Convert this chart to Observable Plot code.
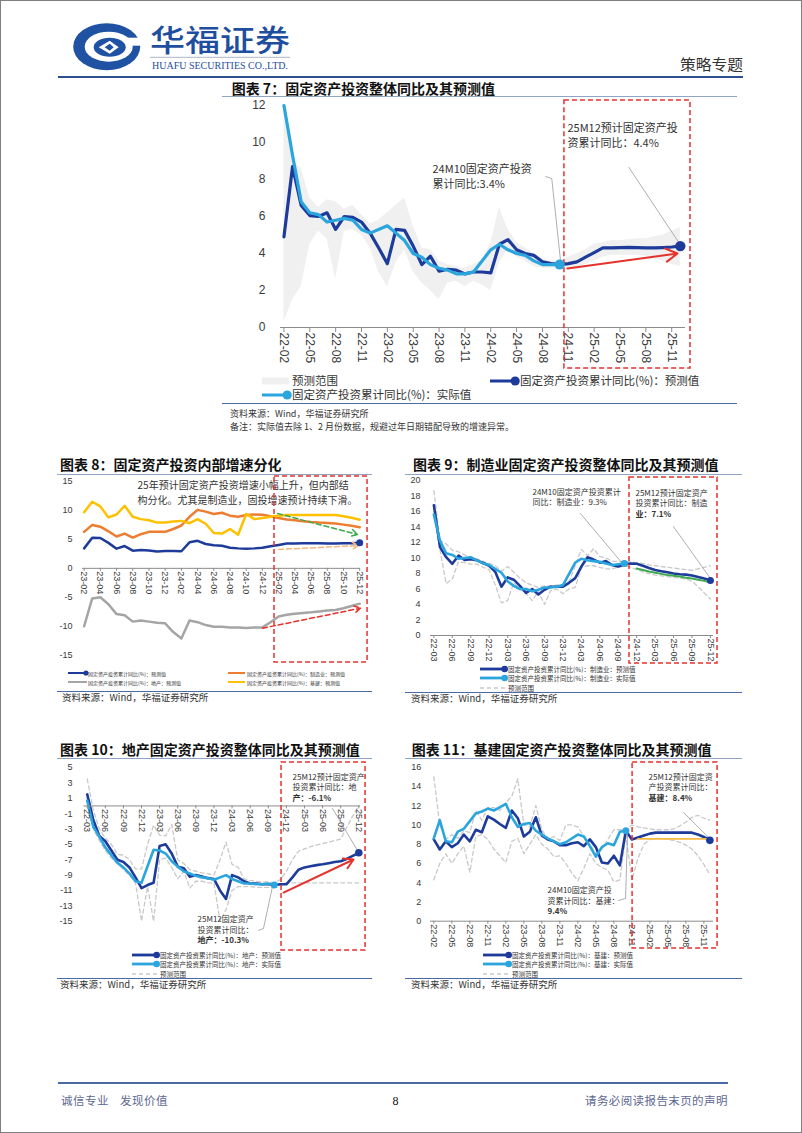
<!DOCTYPE html>
<html><head><meta charset="utf-8">
<script src="https://cdn.jsdelivr.net/npm/d3@7"></script>
<script src="https://cdn.jsdelivr.net/npm/@observablehq/plot@0.6"></script>
<style>
html,body{margin:0;padding:0;background:#fff;}
#page{position:relative;width:802px;height:1133px;overflow:hidden;background:#fff;font-family:'Noto Sans CJK SC','Noto Sans',sans-serif;color:#333;}
#page .t{position:absolute;white-space:pre;line-height:1;transform:translateY(-50%);}
#page .chart{position:absolute;}
#page .chart svg{max-width:none !important;display:block;overflow:visible;}
</style></head><body><div id="page"></div>
<script>
// ---------- categories ----------
const months = ["22-02","22-03","22-04","22-05","22-06","22-07","22-08","22-09","22-10","22-11","22-12",
"23-01","23-02","23-03","23-04","23-05","23-06","23-07","23-08","23-09","23-10","23-11","23-12",
"24-01","24-02","24-03","24-04","24-05","24-06","24-07","24-08","24-09","24-10","24-11","24-12",
"25-01","25-02","25-03","25-04","25-05","25-06","25-07","25-08","25-09","25-10","25-11","25-12"];
const ticksQ = ["22-02","22-05","22-08","22-11","23-02","23-05","23-08","23-11","24-02","24-05","24-08","24-11","25-02","25-05","25-08","25-11"];
const ticksB = ["23-02","23-04","23-06","23-08","23-10","23-12","24-02","24-04","24-06","24-08","24-10","24-12","25-02","25-04","25-06","25-08","25-10","25-12"];
const ticksM = ["22-03","22-06","22-09","22-12","23-03","23-06","23-09","23-12","24-03","24-06","24-09","24-12","25-03","25-06","25-09","25-12"];
const y7 = [0,2,4,6,8,10,12];
const y8 = [-15,-10,-5,0,5,10,15];
const y9 = [0,2,4,6,8,10,12,14,16,18,20];
const y10 = [5,3,1,-1,-3,-5,-7,-9,-11,-13,-15];
const y11 = [0,2,4,6,8,10,12,14,16];

// ---------- series ----------
// total FAI, from 22-02
const faiPred = [4.9,8.7,6.6,6.05,6.0,6.2,5.3,6.0,5.95,5.7,5.1,4.3,3.45,5.3,5.25,4.4,3.4,3.85,3.05,3.15,3.1,2.9,3.0,3.0,2.95,4.5,4.75,4.2,4.0,3.9,3.55,3.45,3.4,3.45,3.55,3.8,4.05,4.3,4.3,4.32,4.33,4.32,4.3,4.3,4.32,4.35,4.4];
const faiActual = [12.0,9.3,6.8,6.2,6.1,5.7,5.8,5.9,5.8,5.3,5.1,null,5.5,5.1,4.7,4.0,3.8,3.4,3.2,3.1,2.9,2.9,3.0,null,4.2,4.5,4.2,4.0,3.9,3.6,3.4,3.4,3.4];
const faiLow = [0.3,1.5,2.2,4.5,5.2,4.8,2.6,5.2,5.3,5.0,4.3,3.0,2.2,3.5,4.2,3.0,2.4,2.0,1.5,2.4,2.5,2.2,2.5,2.3,2.0,3.5,4.2,3.8,3.6,3.3,3.2,3.2,3.2,3.2,3.2,3.4,3.6,3.8,3.9,3.9,3.9,3.9,3.85,3.7,3.6,3.4,3.3];
const faiHigh = [12.0,9.0,8.6,7.0,6.5,6.9,6.8,6.4,6.6,6.1,5.6,5.8,6.2,6.6,7.0,5.5,4.3,4.2,3.6,3.4,3.3,3.2,3.4,3.6,4.6,6.5,5.3,4.6,4.3,4.0,3.7,3.6,3.6,3.8,4.0,4.2,4.5,4.6,4.7,4.7,4.75,4.8,4.8,4.9,5.0,5.2,5.4];
// manufacturing, from 22-03
const mfgPred = [16.8,11.4,10.1,9.25,10.3,9.75,9.85,9.7,9.35,9.0,8.2,6.3,7.5,7.2,6.4,5.5,6.0,5.3,5.9,6.3,6.3,6.3,6.8,7.4,8.9,10.1,9.8,9.4,9.6,9.1,8.9,9.2,9.3,9.25,9.0,8.7,8.45,8.3,8.15,8.0,7.9,7.85,7.75,7.55,7.35,7.1];
const mfgActual = [15.6,12.2,10.6,10.4,9.9,10.0,10.1,9.7,9.3,9.1,null,8.1,7.0,6.4,6.0,6.0,5.7,5.9,6.2,6.2,6.3,6.5,null,9.4,9.9,9.7,9.6,9.5,9.3,9.1,9.2,9.3];
const mfgHigh = [18.7,12.3,11.8,11.0,10.8,10.4,10.1,9.9,9.6,9.3,9.0,8.3,8.9,8.2,7.4,6.8,6.5,6.2,6.4,6.4,6.5,6.6,7.0,9.0,11.1,10.3,11.2,10.2,10.0,9.6,9.5,9.6,9.5,9.4,9.3,9.1,9.0,8.9,8.8,8.7,8.6,8.5,8.4,8.6,8.8,9.0];
const mfgLow = [15.5,11.0,6.7,7.3,9.5,9.4,9.2,9.2,8.8,8.5,6.5,4.2,4.5,6.8,6.0,5.4,4.5,5.7,4.0,5.8,6.0,5.4,6.0,6.2,8.8,9.0,9.0,8.8,8.6,8.6,8.8,9.0,8.8,8.5,8.2,8.0,7.8,7.7,7.6,7.5,7.4,7.3,7.0,6.3,5.5,4.7];
// manufacturing trend (green), from 24-12
const mfgTrend = [8.65,8.45,8.25,8.1,7.95,7.8,7.7,7.6,7.45,7.35,7.2,7.05,6.85];
// real estate, from 22-03
const rePred = [1.5,-1.8,-3.9,-4.6,-5.8,-7.0,-7.3,-8.0,-9.3,-10.7,-10.3,-10.0,-5.2,-5.0,-6.2,-7.9,-8.1,-9.2,-9.0,-9.2,-9.4,-9.5,-11.0,-12.1,-9.0,-9.3,-9.8,-10.1,-10.1,-10.2,-10.2,-10.3,-10.2,-10.2,-9.3,-8.3,-8.0,-7.85,-7.7,-7.6,-7.45,-7.3,-7.2,-6.9,-6.5,-6.1];
const reActual = [0.7,-2.7,-4.0,-5.4,-6.4,-7.4,-8.0,-8.8,-9.8,-10.0,null,-5.7,-5.8,-6.2,-7.2,-7.9,-8.5,-8.8,-9.1,-9.3,-9.4,-9.6,null,-9.0,-9.5,-9.8,-10.1,-10.1,-10.2,-10.2,-10.1,-10.3];
const reHigh = [3.5,-0.5,-3.0,-4.2,-5.0,-6.3,-6.4,-7.0,-8.2,-8.2,-5.0,-2.5,-3.8,-3.9,-2.4,-7.0,-7.5,-8.3,-8.5,-8.7,-8.8,-9.0,-7.0,-4.7,-7.6,-8.0,-9.5,-9.7,-9.8,-9.9,-9.9,-10.0,-9.6,-8.5,-7.0,-5.9,-5.6,-5.3,-5.1,-4.9,-4.7,-4.5,-4.3,-2.8,-1.3,0.0];
const reLow = [0.0,-3.0,-4.5,-5.8,-6.8,-7.5,-8.3,-9.0,-10.0,-15.0,-10.5,-15.0,-7.0,-6.8,-8.0,-9.5,-8.5,-10.7,-9.8,-9.8,-10.0,-10.0,-15.0,-13.5,-11.0,-10.5,-10.5,-10.5,-10.6,-10.6,-10.6,-10.6,-10.2,-10.0,-10.0,-10.0,-10.0,-10.0,-10.0,-10.0,-10.0,-10.0,-10.0,-10.0,-10.0,-10.0];
// infrastructure, from 22-02
const infraPred = [8.5,7.45,8.3,7.7,8.1,9.0,8.3,9.5,9.25,10.9,10.55,10.1,9.7,11.5,10.7,8.8,9.3,10.8,8.9,8.5,8.3,7.9,7.9,8.1,8.2,7.8,8.5,7.7,6.1,6.0,6.8,5.8,9.4,8.5,8.7,8.9,9.1,9.2,9.2,9.2,9.2,9.2,9.2,9.2,9.0,8.75,8.4];
const infraActual = [8.6,10.5,8.3,8.2,9.3,9.6,10.4,11.2,11.4,11.7,11.5,null,12.2,10.8,9.8,10.1,10.2,9.4,9.0,8.6,8.3,8.0,8.2,null,9.0,8.8,7.8,6.7,7.7,8.1,7.9,9.3,9.4];
const infraHigh = [15.0,10.0,8.5,9.0,8.6,9.4,9.2,11.5,10.5,11.8,11.8,11.5,12.3,13.0,14.8,10.0,9.8,12.0,9.5,8.5,8.8,8.4,10.0,10.0,9.8,8.8,8.0,7.0,7.5,8.5,9.5,9.5,9.5,10.0,9.8,9.7,9.6,9.5,9.5,9.5,9.6,9.9,10.3,10.8,11.0,10.7,10.5];
const infraLow = [4.3,6.0,7.0,6.0,7.0,7.8,5.1,8.8,9.0,8.5,7.5,6.8,6.1,8.3,8.6,7.0,8.0,9.0,8.0,7.5,6.7,6.8,6.0,5.0,4.2,5.5,7.0,6.0,5.6,5.3,4.1,4.3,9.0,4.3,6.5,8.0,8.5,8.6,8.6,8.5,8.4,8.2,7.9,7.5,6.8,5.9,4.8];
// infrastructure flat reference (orange), 24-12 .. 25-12
const infraFlat = [8.55,8.55];
const infraFlatMonths = ["24-12","25-12"];

// ---------- annotations (data coordinates: month index, value) ----------
const note7 = [
  {x:17.24,y:8.54,lines:[["24M10固定资产投资",0],["累计同比:3.4%",0]]},
  {x:32.9,y:10.74,lines:[["25M12预计固定资产投",0],["资累计同比：4.4%",0]]}];
const lead7 = [[{x:30.38,y:8.16},{x:31.08,y:8.05},{x:32.12,y:3.51}],[{x:40.02,y:8.66},{x:46.0,y:4.47}]];
const box7 = {x1:32.55,x2:47.18,y1:12.27,y2:-2.22};
const arrow7 = {x1:32.9,y1:3.19,x2:45.67,y2:4.0};

const note8 = [{x:18.59,y:14.31,lines:[["25年预计固定资产投资增速小幅上升，但内部结",0],["构分化。尤其是制造业，固投增速预计持续下滑。",0]]}];
const box8 = {x1:35.49,x2:46.97,y1:15.87,y2:-16.25};
const arrow8g = {x1:35.86,y1:9.47,x2:45.73,y2:5.85};
const arrow8o = {x1:35.98,y1:3.26,x2:45.86,y2:3.95};
const arrow8r = {x1:34.01,y1:-10.34,x2:46.1,y2:-6.88};

const note9 = [
  {x:17.04,y:18.49,lines:[["24M10固定资产投资累计",0],["同比：制造业：9.3%",0]]},
  {x:33.8,y:18.36,lines:[["25M12预计固定资产",0],["投资累计同比：制造",0],["业：7.1%",1]]}];
const lead9 = [[{x:24.85,y:15.74},{x:31.69,y:9.29}],[{x:39.98,y:14.06},{x:46.0,y:7.35}]];
const box9 = {x1:32.83,x2:47.15,y1:20.39,y2:-3.61};

const note10 = [
  {x:35.02,y:3.73,lines:[["25M12预计固定资产",0],["投资累计同比：地",0],["产：-6.1%",1]]},
  {x:19.28,y:-14.78,lines:[["25M12固定资产",0],["投资累计同比：",0],["地产：-10.3%",1]]}];
const lead10 = [[{x:41.65,y:-0.34},{x:45.79,y:-5.8}],[{x:29.38,y:-16.2},{x:30.21,y:-15.94},{x:31.7,y:-10.49}]];
const box10 = {x1:33.2,x2:47.12,y1:5.65,y2:-18.82};
const arrow10 = {x1:33.53,y1:-11.27,x2:45.13,y2:-6.97};

const note11 = [
  {x:35.78,y:14.96,lines:[["25M12预计固定资",0],["产投资累计同比：",0],["基建：8.4%",1]]},
  {x:18.95,y:3.19,lines:[["24M10固定资产投",0],["资累计同比：基建：",0],["9.4%",1]]}];
const lead11 = [[{x:41.62,y:11.29},{x:45.78,y:8.7}],[{x:30.78,y:2.15},{x:31.95,y:2.36},{x:32.28,y:9.22}]];
const box11 = {x1:33.12,x2:47.28,y1:16.49,y2:-2.84};

// ---------- styles ----------
const CJK = "'Noto Sans CJK SC','Noto Sans',sans-serif";
const DARK="#1d3b9a", LIGHT="#2aa5de", RED="#e5322d", BAND="#f0f0f0", RANGE="#c9c9c9",
      ORANGE="#ed7d31", YELLOW="#ffc000", GRAY="#a5a5a5", GREEN="#3daa4f", LORANGE="#f5b67a", FLAT="#f4b942";

const idx = m => months.indexOf(m);
function ser(arr, start){ const s = idx(start); return arr.map((v,k)=>({i:s+k, v})).filter(d=>d.v!=null); }
function lastOf(arr, start){ const s = ser(arr,start); return s[s.length-1]; }
function rangeLines(hi, lo, start){
  return [Plot.line(ser(hi,start),{x:"i",y:"v",stroke:RANGE,strokeWidth:1.3,strokeDasharray:"4,3"}),
          Plot.line(ser(lo,start),{x:"i",y:"v",stroke:RANGE,strokeWidth:1.3,strokeDasharray:"4,3"})];
}
function line(arr,start,color,w){ return Plot.line(ser(arr,start),{x:"i",y:"v",stroke:color,strokeWidth:w,strokeLinejoin:"round"}); }
function dot(p,color,r){ return Plot.dot([p],{x:"i",y:"v",r,fill:color,stroke:"none"}); }
function note(a,size,lh){
  return a.lines.map((ln,k)=>Plot.text([a],{x:"x",y:"y",text:()=>ln[0],dy:k*lh,textAnchor:"start",fontSize:size,
    fontWeight:ln[1]?"bold":"normal",fill:"#333",fontFamily:CJK}));
}
function leader(p){ return Plot.line(p,{x:"x",y:"y",stroke:"#9b9b9b",strokeWidth:0.8}); }
function redBox(b){ return Plot.rect([b],{x1:"x1",x2:"x2",y1:"y1",y2:"y2",fill:"none",stroke:RED,strokeWidth:1.5,strokeDasharray:"5,3"}); }
function arrow(a,color,w,head,dash){ const o={x1:"x1",y1:"y1",x2:"x2",y2:"y2",stroke:color,strokeWidth:w,headLength:head}; if(dash) o.strokeDasharray=dash; return Plot.arrow([a],o); }

function buildChart(c){
  const pxPerY = (c.H - c.mt - c.mb)/(c.yd[1]-c.yd[0]);
  const tl = c.tickLen/pxPerY;
  const xt = c.xTicks.map(idx);
  return Plot.plot({
    width:c.W, height:c.H, marginTop:c.mt, marginBottom:c.mb, marginLeft:c.ml, marginRight:c.mr,
    x:{type:"linear",domain:c.xd,axis:null},
    y:{type:"linear",domain:c.yd,axis:null},
    style:{fontFamily:"'Liberation Sans',Arial,sans-serif",background:"transparent",overflow:"visible"},
    marks:[
      ...c.under,
      Plot.ruleY([0],{stroke:"#8c8c8c",strokeWidth:1}),
      Plot.ruleX(xt,{x:d=>d,y1:0,y2:-tl,stroke:"#8c8c8c",strokeWidth:1}),
      Plot.text(xt,{x:d=>d,y:0,text:d=>months[d],rotate:90,textAnchor:"start",dy:c.gap,fontSize:c.font,fill:"#3a3a3a"}),
      Plot.text(c.yTicks,{y:d=>d,text:d=>String(d),frameAnchor:"left",textAnchor:"end",dx:c.ydx,fontSize:c.font,fill:"#3a3a3a"}),
      ...c.over
    ]
  });
}

const page = document.getElementById("page");
function place(svg,left,top,w){ const d=document.createElement("div"); d.className="chart"; d.style.left=left+"px"; d.style.top=top+"px"; d.style.width=w+"px"; d.appendChild(svg); page.appendChild(d); }
function txt(x,y,s,size,extra){ const d=document.createElement("div"); d.className="t"; d.style.left=x+"px"; d.style.top=y+"px"; d.style.fontSize=size+"px"; if(extra) Object.assign(d.style,extra); d.textContent=s; page.appendChild(d); return d; }
function hline(x1,x2,y,color,w){ const d=document.createElement("div"); d.style.cssText=`position:absolute;left:${x1}px;top:${y-w/2}px;width:${x2-x1}px;height:${w}px;background:${color};`; page.appendChild(d); }
function legend(x,y,w,kind,color,sw,r,label,size,tx){
  const d=document.createElement("div");
  d.style.cssText=`position:absolute;left:${x}px;top:${y-8}px;width:${w+12}px;height:16px;`;
  let inner = `<line x1="0" x2="${w}" y1="8" y2="8" stroke="${color}" stroke-width="${sw}"${kind==="dash"?' stroke-dasharray="4,3"':''}/>`;
  if(r) inner += `<circle cx="${w-r*0.4}" cy="8" r="${r}" fill="${color}"/>`;
  d.innerHTML = `<svg width="${w+12}" height="16" style="overflow:visible;display:block">${inner}</svg>`;
  page.appendChild(d);
  txt(tx,y,label,size);
}
const title = (x,y,s)=>txt(x,y,s,14,{fontWeight:"700",color:"#111"});
const SRC = "资料来源：Wind，华福证券研究所";

// ---------- header ----------
(function(){
  const d=document.createElement("div");
  d.style.cssText="position:absolute;left:0;top:0;width:802px;height:80px;";
  d.innerHTML = `<svg width="802" height="80">
    <g transform="translate(106.7,46.7)">
      <ellipse rx="33.5" ry="23.5" fill="#1f52a3"/>
      <ellipse cx="2" rx="24" ry="15" fill="#fff"/>
      <rect x="20" y="-9" width="16" height="8" fill="#fff"/>
      <ellipse cx="3" cy="0.5" rx="16" ry="9.5" fill="#1f52a3"/>
      <path d="M-8 0.5 L3 -6 L12 0.5 L3 7 Z" fill="#fff"/>
      <path d="M-2 0.5 L3 -3 L7 0.5 L3 4 Z" fill="#1f52a3"/>
    </g>
    <text x="150" y="51" textLength="140" lengthAdjust="spacingAndGlyphs" font-family="'Noto Sans CJK SC'" font-size="30" font-weight="500" fill="#1e4e9e">华福证券</text>
    <line x1="150" x2="290" y1="57.3" y2="57.3" stroke="#9aa3b5" stroke-width="0.8"/>
    <text x="152" y="69" textLength="136" lengthAdjust="spacingAndGlyphs" font-family="'Liberation Serif'" font-size="10" fill="#1e4e9e">HUAFU SECURITIES CO.,LTD.</text>
    <text x="680" y="69.5" textLength="63" lengthAdjust="spacingAndGlyphs" font-family="'Noto Sans CJK SC'" font-size="15" fill="#333">策略专题</text>
  </svg>`;
  page.appendChild(d);
})();
hline(58,743,76.7,"#2d4f8d",2);

// ---------- chart 7 ----------
title(231.7,87.7,"图表 7：固定资产投资整体同比及其预测值");
hline(222,737,96,"#8fa3c4",1);
const band7 = faiLow.map((lo,k)=>({i:idx("22-02")+k, lo, hi:faiHigh[k]}));
place(buildChart({
  W:470,H:272,mt:7,mb:43,ml:58,mr:7,xd:[-0.4,46.6],yd:[0,12],
  xTicks:ticksQ,yTicks:y7,font:12,ydx:-15,tickLen:5,gap:5,
  under:[
    Plot.areaY(band7,{x:"i",y1:"lo",y2:"hi",fill:BAND}),
    line(faiPred,"22-02",DARK,3.2),
    line(faiActual,"22-02",LIGHT,3.2)
  ],
  over:[
    ...lead7.map(leader),
    ...note7.flatMap(a=>note(a,11,15)),
    redBox(box7),
    arrow(arrow7,RED,2,10),
    dot(lastOf(faiActual,"22-02"),LIGHT,5),
    dot(lastOf(faiPred,"22-02"),DARK,5.2)
  ]
}),222,98,470);
legend(262,380.7,27,"band",BAND,7,0,"预测范围",11.5,292);
legend(490,380.7,27,"line",DARK,3,4.6,"固定资产投资累计同比(%)：预测值",11.5,520);
legend(262,395,27,"line",LIGHT,3,4.6,"固定资产投资累计同比(%)：实际值",11.5,292);
hline(222,737,403.5,"#4a6aa5",1.5);
txt(230,413,SRC,9);
txt(230,426,"备注：实际值去除 1、2 月份数据，规避过年日期错配导致的增速异常。",9);

// ---------- chart 8 ----------
title(60,464,"图表 8：固定资产投资内部增速分化");
hline(57,372,474,"#8fa3c4",1);
place(buildChart({
  W:315,H:192,mt:5,mb:13.3,ml:25,mr:12,xd:[11.8,46.1],yd:[-15,15],
  xTicks:ticksB,yTicks:y8,font:9,ydx:-10,tickLen:3,gap:3,
  under:[
    line(rePred.slice(idx("23-02")-idx("22-03")),"23-02",GRAY,2.5),
    line(mfgPred.slice(idx("23-02")-idx("22-03")),"23-02",ORANGE,2.5),
    line(infraPred.slice(idx("23-02")-idx("22-02")),"23-02",YELLOW,2.5),
    line(faiPred.slice(idx("23-02")-idx("22-02")),"23-02",DARK,2.5)
  ],
  over:[
    ...note8.flatMap(a=>note(a,10,15)),
    redBox(box8),
    arrow(arrow8g,GREEN,1.5,7,"5,3"),
    arrow(arrow8o,LORANGE,1.5,7,"5,3"),
    arrow(arrow8r,RED,1.5,7,"5,3"),
    dot(lastOf(faiPred,"22-02"),DARK,3.5)
  ]
}),57,476,315);
legend(68,672.7,19,"line",DARK,2,2.6,"固定资产投资累计同比(%)：预测值",5,88);
legend(228,672.7,17,"line",ORANGE,2,0,"固定资产投资累计同比(%)：制造业：预测值",5,247);
legend(68,682,19,"line",GRAY,2,0,"固定资产投资累计同比(%)：地产：预测值",5,88);
legend(228,682,17,"line",YELLOW,2,0,"固定资产投资累计同比(%)：基建：预测值",5,247);
hline(57,372,691,"#4a6aa5",1);
txt(62,698,SRC,9.5);

// ---------- chart 9 ----------
title(413,464,"图表 9：制造业固定资产投资整体同比及其预测值");
hline(405,742,474,"#8fa3c4",1);
place(buildChart({
  W:315,H:192,mt:4,mb:33,ml:25,mr:7,xd:[0.45,46.5],yd:[0,20],
  xTicks:ticksM,yTicks:y9,font:9,ydx:-10,tickLen:3,gap:3,
  under:[
    ...rangeLines(mfgHigh,mfgLow,"22-03"),
    line(mfgPred,"22-03",DARK,2.6),
    line(mfgActual,"22-03",LIGHT,2.6),
    line(mfgTrend,"24-12",GREEN,2)
  ],
  over:[
    ...lead9.map(leader),
    ...note9.flatMap(a=>note(a,8,10.5)),
    redBox(box9),
    dot(lastOf(mfgActual,"22-03"),LIGHT,3.5),
    dot(lastOf(mfgPred,"22-03"),DARK,3.5)
  ]
}),405,476,315);
legend(480,668.5,26,"line",DARK,2.8,3.3,"固定资产投资累计同比(%)：制造业：预测值",6.5,508);
legend(480,678,26,"line",LIGHT,2.8,3.3,"固定资产投资累计同比(%)：制造业：实际值",6.5,508);
legend(480,687.5,26,"dash",RANGE,1.3,0,"预测范围",6.5,508);
hline(405,742,692.5,"#4a6aa5",1);
txt(411,699,SRC,9.5);

// ---------- chart 10 ----------
title(60,749,"图表 10：地产固定资产投资整体同比及其预测值");
hline(57,372,758.3,"#8fa3c4",1);
place(buildChart({
  W:315,H:192,mt:7,mb:31.3,ml:26.4,mr:11.9,xd:[0.45,46.3],yd:[-15,5],
  xTicks:ticksM,yTicks:y10,font:9,ydx:-11.4,tickLen:3,gap:3,
  under:[
    ...rangeLines(reHigh,reLow,"22-03"),
    line(rePred,"22-03",DARK,2.6),
    line(reActual,"22-03",LIGHT,2.6)
  ],
  over:[
    ...lead10.map(leader),
    ...note10.flatMap(a=>note(a,8,10.5)),
    redBox(box10),
    arrow(arrow10,RED,2,8),
    dot(lastOf(reActual,"22-03"),LIGHT,3.5),
    dot(lastOf(rePred,"22-03"),DARK,3.8)
  ]
}),57,760,315);
legend(132,954.5,26,"line",DARK,2.8,3.3,"固定资产投资累计同比(%)：地产：预测值",6.5,160);
legend(132,964,26,"line",LIGHT,2.8,3.3,"固定资产投资累计同比(%)：地产：实际值",6.5,160);
legend(132,973.5,26,"dash",RANGE,1.3,0,"预测范围",6.5,160);
hline(57,372,978.5,"#4a6aa5",1);
txt(60,984.5,SRC,9.5);

// ---------- chart 11 ----------
title(411.7,749,"图表 11：基建固定资产投资整体同比及其预测值");
hline(405,742,758.3,"#8fa3c4",1);
const flat11 = infraFlat.map((v,k)=>({i:idx(infraFlatMonths[k]),v}));
place(buildChart({
  W:315,H:192,mt:6.7,mb:31.3,ml:25,mr:7,xd:[-0.55,46.6],yd:[0,16],
  xTicks:ticksQ,yTicks:y11,font:9,ydx:-9.3,tickLen:3,gap:3,
  under:[
    ...rangeLines(infraHigh,infraLow,"22-02"),
    line(infraPred,"22-02",DARK,2.6),
    line(infraActual,"22-02",LIGHT,2.6),
    Plot.line(flat11,{x:"i",y:"v",stroke:FLAT,strokeWidth:1.8})
  ],
  over:[
    ...lead11.map(leader),
    ...note11.flatMap(a=>note(a,8,10.5)),
    redBox(box11),
    dot(lastOf(infraActual,"22-02"),LIGHT,3.5),
    dot(lastOf(infraPred,"22-02"),DARK,3.8)
  ]
}),405,760,315);
legend(483,954.5,27,"line",DARK,2.8,3.3,"固定资产投资累计同比(%)：基建：预测值",6.5,512);
legend(483,964,27,"line",LIGHT,2.8,3.3,"固定资产投资累计同比(%)：基建：实际值",6.5,512);
legend(483,973.5,27,"dash",RANGE,1.3,0,"预测范围",6.5,512);
hline(405,742,978.5,"#4a6aa5",1);
txt(411,984.5,SRC,9.5);

// ---------- footer ----------
hline(58,728,1083,"#4a6aa5",1.5);
txt(61,1100.7,"诚信专业",11.5,{color:"#5d6890",letterSpacing:"0.5px"});
txt(120,1100.7,"发现价值",11.5,{color:"#5d6890",letterSpacing:"0.5px"});
txt(392.5,1101,"8",12,{fontFamily:"'Liberation Serif',serif",color:"#111"});
txt(585,1100.7,"请务必阅读报告末页的声明",11.5,{color:"#5d6890",letterSpacing:"0.4px"});

// page border
(function(){ const d=document.createElement("div"); d.style.cssText="position:absolute;left:0;top:0;width:802px;height:1133px;box-sizing:border-box;border:1px solid #7f7f7f;pointer-events:none;"; page.appendChild(d); })();
</script></body></html>
